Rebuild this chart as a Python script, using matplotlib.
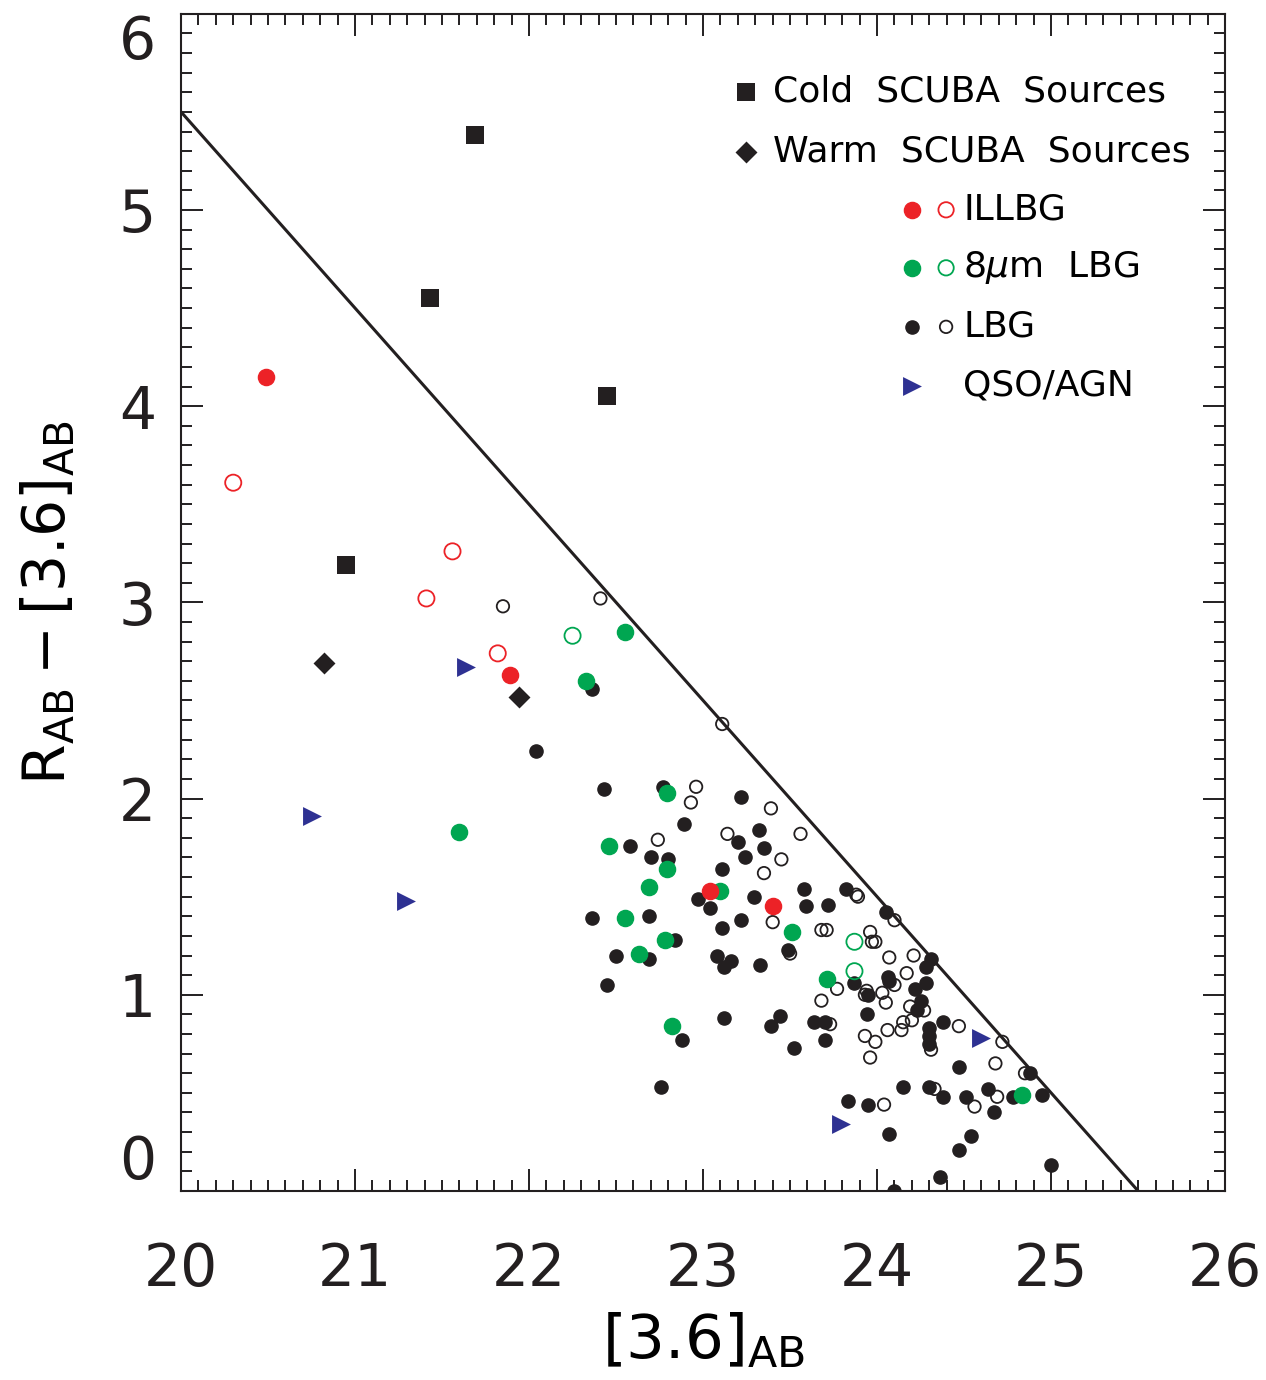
import numpy as np
import matplotlib
matplotlib.use("Agg")
import matplotlib.pyplot as plt
from matplotlib.ticker import MultipleLocator

plt.rcParams['font.family'] = ['DejaVu Sans']
plt.rcParams['mathtext.fontset'] = 'dejavusans'

# --- data ---
cold_x = [21.69, 21.43, 22.45, 20.95]
cold_y = [5.38, 4.55, 4.05, 3.19]
warm_x = [20.82, 21.94]
warm_y = [2.69, 2.52]

illbg_fill_x = [20.49, 21.89, 23.04, 23.40]
illbg_fill_y = [4.15, 2.63, 1.53, 1.45]
illbg_open_x = [20.30, 21.56, 21.41, 21.82]
illbg_open_y = [3.61, 3.26, 3.02, 2.74]

lbg8_fill_x = [22.55, 22.33, 21.60, 22.79, 22.46, 22.69, 23.10, 22.79, 22.55, 22.78,
               22.63, 23.51, 23.71, 22.82, 24.83]
lbg8_fill_y = [2.85, 2.60, 1.83, 2.03, 1.76, 1.55, 1.53, 1.64, 1.39, 1.28,
               1.21, 1.32, 1.08, 0.84, 0.49]
lbg8_open_x = [22.25, 23.87, 23.87]
lbg8_open_y = [2.83, 1.27, 1.12]

qso_x = [21.64, 20.75, 21.29, 23.79, 24.60]
qso_y = [2.67, 1.91, 1.48, 0.34, 0.78]

lbg_fill_x = [22.36, 22.04, 22.43, 22.77, 22.89, 22.58, 23.20, 22.70, 22.80, 23.11,
              22.97, 23.04, 22.36, 22.69, 23.11, 23.22, 22.84, 22.50, 22.69, 23.08,
              23.16, 23.12, 23.22, 23.32, 23.35, 23.24, 23.58, 23.82, 23.29, 23.59,
              23.72, 24.05, 23.49, 23.33, 24.06, 24.31, 24.28, 24.28, 24.22, 24.25,
              24.23, 24.38, 24.30, 24.30, 24.30, 24.47, 24.88, 24.15, 24.30, 24.38,
              24.51, 24.64, 24.78, 24.95, 24.67, 24.54, 24.47, 24.36, 25.00, 23.87,
              23.95, 24.07, 23.44, 23.39, 23.64, 23.70, 23.94, 23.70, 23.52, 23.83,
              23.95, 24.07, 24.10, 22.45, 22.88, 23.12, 22.76]
lbg_fill_y = [2.56, 2.24, 2.05, 2.06, 1.87, 1.76, 1.78, 1.70, 1.69, 1.64,
              1.49, 1.44, 1.39, 1.40, 1.34, 1.38, 1.28, 1.20, 1.18, 1.20,
              1.17, 1.14, 2.01, 1.84, 1.75, 1.70, 1.54, 1.54, 1.50, 1.45,
              1.46, 1.42, 1.23, 1.15, 1.09, 1.18, 1.14, 1.06, 1.03, 0.97,
              0.92, 0.86, 0.83, 0.79, 0.75, 0.63, 0.60, 0.53, 0.53, 0.48,
              0.48, 0.52, 0.48, 0.49, 0.40, 0.28, 0.21, 0.07, 0.13, 1.06,
              1.00, 1.07, 0.89, 0.84, 0.86, 0.86, 0.90, 0.77, 0.73, 0.46,
              0.44, 0.29, 0.00, 1.05, 0.77, 0.88, 0.53]
lbg_open_x = [21.85, 22.41, 23.11, 22.96, 22.93, 22.74, 23.14, 23.39, 23.56, 23.45,
              23.35, 23.88, 23.89, 24.10, 23.40, 23.68, 23.71, 23.96, 23.97, 23.99,
              23.50, 24.07, 24.21, 24.17, 24.19, 24.27, 24.20, 24.15, 24.14, 24.47,
              24.31, 24.72, 24.68, 24.85, 24.33, 24.69, 24.56, 23.77, 23.94, 23.93,
              24.03, 24.05, 24.10, 23.68, 23.73, 23.93, 23.99, 24.06, 23.96, 24.04]
lbg_open_y = [2.98, 3.02, 2.38, 2.06, 1.98, 1.79, 1.82, 1.95, 1.82, 1.69,
              1.62, 1.51, 1.50, 1.38, 1.37, 1.33, 1.33, 1.32, 1.27, 1.27,
              1.21, 1.19, 1.20, 1.11, 0.94, 0.92, 0.87, 0.86, 0.82, 0.84,
              0.72, 0.76, 0.65, 0.60, 0.52, 0.48, 0.43, 1.03, 1.02, 1.00,
              1.01, 0.96, 1.05, 0.97, 0.85, 0.79, 0.76, 0.82, 0.68, 0.44]

# selection line R - [3.6] = 25.5 - [3.6]
line_x = [20.0, 25.5]
line_y = [25.5 - v for v in line_x]

xticks = [20, 21, 22, 23, 24, 25, 26]
yticks = [0, 1, 2, 3, 4, 5, 6]

red = '#ec2227'
green = '#00a651'
blue = '#2e3192'
blk = '#231f20'

fig = plt.figure(figsize=(12.66, 13.8), dpi=100)
ax = fig.add_axes([0.143, 0.137, 0.8247, 0.853])

ax.plot(line_x, line_y, color=blk, lw=2.2, zorder=2)

ax.scatter(lbg_fill_x, lbg_fill_y, s=90, color=blk, zorder=3)
ax.scatter(lbg_open_x, lbg_open_y, s=80, facecolor='none', edgecolor=blk, lw=1.3, zorder=4)
ax.scatter(lbg8_fill_x, lbg8_fill_y, s=135, color=green, zorder=5)
ax.scatter(lbg8_open_x, lbg8_open_y, s=135, facecolor='none', edgecolor=green, lw=1.3, zorder=5)
ax.scatter(illbg_fill_x, illbg_fill_y, s=135, color=red, zorder=5)
ax.scatter(illbg_open_x, illbg_open_y, s=135, facecolor='none', edgecolor=red, lw=1.3, zorder=5)
ax.scatter(qso_x, qso_y, s=185, marker='>', color=blue, lw=0, zorder=5)
ax.scatter(cold_x, cold_y, s=170, marker='s', color=blk, lw=0, zorder=5)
ax.scatter(warm_x, warm_y, s=125, marker='D', color=blk, lw=0, zorder=5)

ax.set_xlim(20, 26)
ax.set_ylim(0, 6)
ax.set_xticks(xticks)
ax.set_yticks(yticks)
ax.xaxis.set_minor_locator(MultipleLocator(0.1))
ax.yaxis.set_minor_locator(MultipleLocator(0.1))
ax.tick_params(which='both', direction='in', top=True, right=True, width=1.4, colors=blk)
ax.tick_params(which='major', length=16)
ax.tick_params(which='minor', length=8)
ax.tick_params(axis='x', which='major', pad=36, labelsize=42)
ax.tick_params(axis='y', which='major', pad=18, labelsize=42)
ylabs = ax.get_yticklabels()
ylabs[0].set_va('bottom')
ylabs[-1].set_va('top')
for sp in ax.spines.values():
    sp.set_linewidth(1.5)
    sp.set_color(blk)

ax.set_xlabel(r'$[3.6]_{\mathrm{AB}}$', fontsize=44, labelpad=10)
ax.set_ylabel(r'$\mathrm{R}_{\mathrm{AB}}-[3.6]_{\mathrm{AB}}$', fontsize=42, labelpad=30)

# legend, drawn by hand to follow the original layout
def ax_pt(px, py):
    return (px - 181) / 1044, (1191 - py) / 1177

tr = ax.transAxes
fs = 26
x0, y0 = ax_pt(746, 92)
ax.scatter([x0], [y0], s=170, marker='s', color=blk, lw=0, transform=tr, clip_on=False)
tx, _ = ax_pt(773, 0)
ax.text(tx, y0, 'Cold  SCUBA  Sources', transform=tr, fontsize=fs, va='center', ha='left')
x0, y0 = ax_pt(746, 152)
ax.scatter([x0], [y0], s=125, marker='D', color=blk, lw=0, transform=tr, clip_on=False)
ax.text(tx, y0, 'Warm  SCUBA  Sources', transform=tr, fontsize=fs, va='center', ha='left')

xf, _ = ax_pt(912, 0)
xo, _ = ax_pt(946, 0)
tx2, _ = ax_pt(963, 0)
rows = [(210, red, 'ILLBG', 135), (268, green, r'8$\mu$m  LBG', 135), (327, blk, 'LBG', 90)]
for py, c, lab, s in rows:
    _, yy = ax_pt(0, py)
    ax.scatter([xf], [yy], s=s, color=c, transform=tr, clip_on=False)
    ax.scatter([xo], [yy], s=s * 0.9, facecolor='none', edgecolor=c, lw=1.3, transform=tr, clip_on=False)
    ax.text(tx2, yy, lab, transform=tr, fontsize=fs, va='center', ha='left')
_, yy = ax_pt(0, 386)
ax.scatter([xf], [yy], s=185, marker='>', color=blue, lw=0, transform=tr, clip_on=False)
ax.text(tx2, yy, 'QSO/AGN', transform=tr, fontsize=fs, va='center', ha='left')

fig.savefig('out.png', dpi=100)
